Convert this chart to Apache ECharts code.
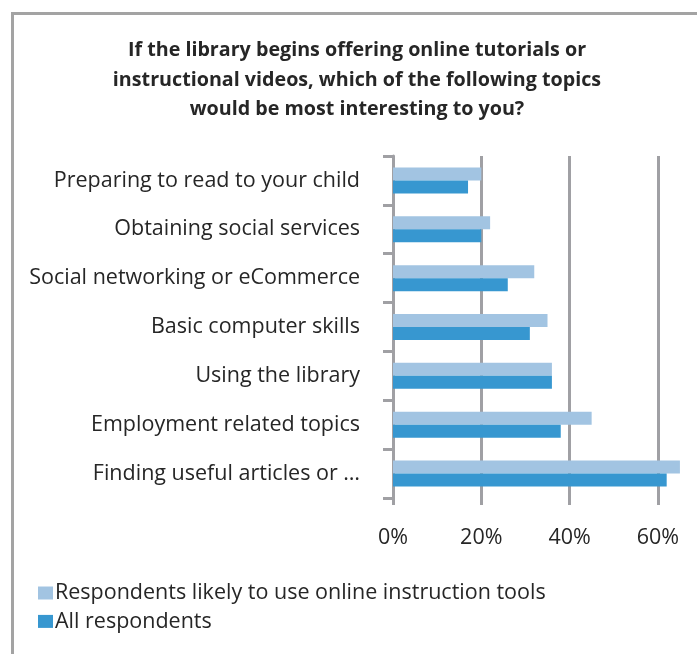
<!DOCTYPE html>
<html>
<head>
<meta charset="utf-8">
<script src="https://cdn.jsdelivr.net/npm/echarts@6/dist/echarts.min.js"></script>
<style>
html,body{margin:0;padding:0;background:#fff;}
#chart{width:697px;height:654px;}
</style>
</head>
<body>
<div id="chart"></div>
<script>
const titleText = "If the library begins offering online tutorials or\ninstructional videos, which of the following topics\nwould be most interesting to you?";
const categories = [
  "Preparing to read to your child",
  "Obtaining social services",
  "Social networking or eCommerce",
  "Basic computer skills",
  "Using the library",
  "Employment related topics",
  "Finding useful articles or \u2026"
];
const seriesNames = ["Respondents likely to use online instruction tools", "All respondents"];
const likelyUsers = [20, 22, 32, 35, 36, 45, 65];
const allRespondents = [17, 20, 26, 31, 36, 38, 62];
const xTicks = [0, 20, 40, 60];

const FONT = "Open Sans";
const chart = echarts.init(document.getElementById('chart'), null, {renderer: 'canvas'});
chart.setOption({
  animation: false,
  backgroundColor: '#fff',
  graphic: [{
    type: 'rect', left: 10, top: 11, silent: true,
    shape: {x: 0, y: 0, width: 760, height: 720},
    style: {fill: 'none', stroke: '#a3a3a3', lineWidth: 3}
  }],
  title: {
    text: titleText,
    left: 352, top: 31, textAlign: 'center',
    textStyle: {fontFamily: FONT, fontWeight: 'bold', fontSize: 19.7, lineHeight: 29.5, color: '#262626'}
  },
  legend: {
    data: seriesNames,
    orient: 'vertical', left: 33, top: 577,
    itemWidth: 15, itemHeight: 13, itemGap: 6.4,
    icon: 'rect',
    textStyle: {fontFamily: FONT, fontSize: 21.5, color: '#262626', padding: [0, 0, 0, -3]}
  },
  grid: {left: 393, top: 156, bottom: 156, width: 309, containLabel: false, outerBoundsMode: 'none'},
  xAxis: {
    type: 'value', min: 0, max: 70, interval: 20,
    axisLine: {show: false},
    axisTick: {show: true, length: 7, lineStyle: {color: '#a0a0a4', width: 3}},
    splitLine: {show: true, lineStyle: {color: '#a0a0a4', width: 3}},
    axisLabel: {
      margin: 29, fontFamily: FONT, fontSize: 21.5, color: '#262626', showMaxLabel: false,
      formatter: v => xTicks.indexOf(v) >= 0 ? v + '%' : ''
    }
  },
  yAxis: {
    type: 'category', data: categories, inverse: true,
    axisLine: {show: true, lineStyle: {color: '#a0a0a4', width: 3}},
    axisTick: {show: true, length: 10, lineStyle: {color: '#a0a0a4', width: 3}},
    axisLabel: {margin: 33, fontFamily: FONT, fontSize: 21.5, color: '#262626'}
  },
  series: [
    {name: seriesNames[0], type: 'bar', data: likelyUsers, barWidth: 13, barGap: '0%',
     itemStyle: {color: '#a2c4e2'}, z: 3},
    {name: seriesNames[1], type: 'bar', data: allRespondents, barWidth: 13, barGap: '0%',
     itemStyle: {color: '#3797d0'}, z: 3}
  ]
});
</script>
</body>
</html>
